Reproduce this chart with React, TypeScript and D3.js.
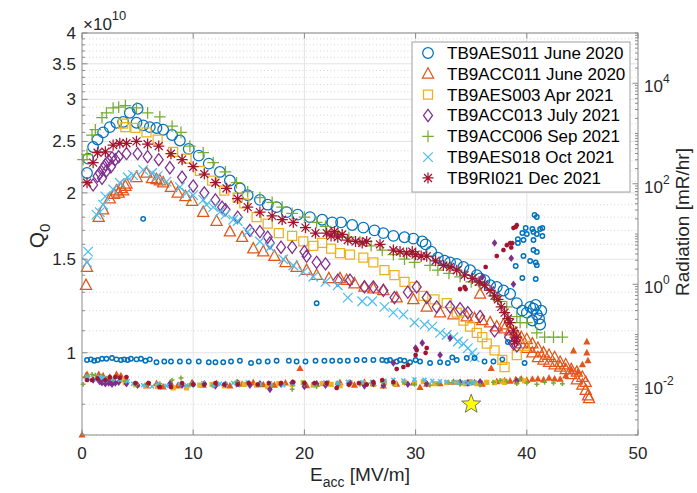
import React from "react";
import * as d3 from "d3";

// ---------------- data (Q0 in units of 1e10, radiation in mR/hr) ----------------
const seriesNames = [
  "TB9AES011 June 2020",
  "TB9ACC011 June 2020",
  "TB9AES003 Apr 2021",
  "TB9ACC013 July 2021",
  "TB9ACC006 Sep 2021",
  "TB9AES018 Oct 2021",
  "TB9RI021 Dec 2021",
];

const aes011Q: [number, number][] = [
  [0.45,2.18],[0.55,2.32],[1.0,2.44],[1.4,2.52],[1.9,2.60],[2.5,2.66],[3.1,2.71],[3.7,2.72],[4.3,2.83],[5.0,2.88],[4.9,2.71],[5.5,2.68],[6.1,2.66],[6.7,2.65],[7.3,2.63],[8.1,2.57],[8.8,2.51],[9.6,2.42],[10.5,2.35],[11.4,2.27],[12.4,2.19],[13.3,2.11],[14.2,2.04],[14.9,1.98],[16.0,1.94],[16.7,1.90],[17.5,1.88],[18.4,1.84],[19.4,1.82],[20.5,1.80],[21.6,1.78],[22.5,1.76],[23.3,1.76],[24.3,1.74],[25.3,1.72],[26.3,1.70],[27.1,1.68],[28.0,1.66],[29.0,1.65],[29.8,1.64],[30.6,1.62],[30.9,1.60],[31.4,1.55],[32.0,1.51],[32.6,1.49],[33.1,1.48],[33.7,1.47],[34.3,1.45],[34.9,1.43],[35.5,1.40],[35.8,1.38],[36.2,1.37],[36.7,1.34],[37.3,1.33],[37.9,1.31],[38.5,1.29],[39.1,1.24],[39.6,1.20],[40.0,1.19],[40.3,1.22],[40.6,1.21],[40.8,1.23],[40.9,1.18],[41.1,1.16],[41.2,1.13],[40.5,1.15],[41.3,1.20],
];
const acc011Q: [number, number][] = [
  [0.36,1.34],[0.45,1.45],[1.5,1.80],[1.9,1.86],[2.5,1.95],[2.9,1.99],[3.1,2.02],[3.3,2.00],[3.5,2.04],[3.7,2.02],[3.9,2.06],[4.0,2.08],[4.9,2.14],[5.8,2.18],[6.3,2.13],[6.7,2.12],[7.0,2.11],[7.3,2.09],[8.0,2.05],[8.6,2.00],[9.3,1.97],[9.9,1.93],[10.9,1.84],[12.1,1.77],[13.3,1.69],[14.4,1.65],[15.4,1.57],[16.3,1.55],[17.3,1.52],[18.3,1.48],[19.3,1.45],[20.2,1.43],[21.1,1.40],[22.2,1.38],[23.2,1.38],[23.8,1.37],[24.5,1.35],[25.4,1.33],[26.2,1.32],[27.1,1.31],[28.3,1.27],[29.8,1.26],[31.0,1.22],[32.2,1.19],[33.4,1.18],[34.6,1.17],[35.3,1.16],[35.8,1.29],[36.0,1.15],[36.7,1.14],[37.3,1.12],[37.9,1.13],[38.0,1.11],[38.5,1.10],[39.0,1.09],[39.0,1.06],[39.5,1.07],[39.5,1.04],[40.0,1.06],[40.0,1.02],[40.5,1.04],[40.5,1.00],[41.0,1.02],[41.0,0.98],[41.5,1.00],[41.5,0.97],[42.0,0.99],[42.0,0.96],[42.5,0.98],[42.5,0.95],[43.0,0.96],[43.0,0.94],[43.5,0.95],[43.5,0.93],[44.0,0.93],[44.0,0.91],[44.5,0.92],[44.5,0.89],[45.0,0.90],[45.0,0.87],[45.3,0.88],[45.3,0.85],[45.5,0.83],[45.6,0.82],
];
const aes003Q: [number, number][] = [
  [3.7,2.70],[3.9,2.66],[4.8,2.65],[5.8,2.60],[6.8,2.52],[8.2,2.39],[9.4,2.32],[10.6,2.20],[11.7,2.11],[12.8,2.02],[14.0,1.96],[14.6,1.91],[15.7,1.80],[16.7,1.75],[17.7,1.68],[18.9,1.66],[19.9,1.62],[20.8,1.59],[21.6,1.61],[22.4,1.57],[23.2,1.54],[24.1,1.53],[25.3,1.51],[26.2,1.48],[27.2,1.43],[28.1,1.40],[29.0,1.36],[29.9,1.33],[30.7,1.28],[31.7,1.26],[32.8,1.24],[33.7,1.19],[34.3,1.15],[34.9,1.12],[35.5,1.09],[36.0,1.07],[36.4,1.04],[37.1,1.01],[37.8,0.97],[38.0,0.94],[39.1,0.99],[39.8,1.03],
];
const acc013Q: [number, number][] = [
  [1.0,2.07],[1.4,2.15],[1.6,2.18],[1.8,2.13],[1.9,2.22],[2.1,2.26],[2.2,2.20],[2.4,2.30],[2.6,2.24],[2.7,2.33],[3.0,2.31],[3.3,2.34],[4.0,2.37],[5.0,2.37],[5.9,2.34],[6.9,2.31],[7.9,2.23],[9.0,2.14],[10.0,2.06],[11.0,2.00],[12.0,1.94],[12.6,1.88],[12.9,1.86],[14.0,1.80],[15.1,1.70],[16.0,1.69],[16.7,1.65],[16.9,1.61],[17.9,1.58],[18.9,1.58],[20.0,1.55],[20.2,1.52],[21.1,1.48],[21.9,1.47],[23.0,1.37],[24.1,1.37],[25.4,1.33],[26.2,1.33],[27.1,1.31],[28.1,1.27],[29.3,1.30],[30.1,1.33],[31.0,1.27],[31.9,1.22],[33.1,1.22],[34.0,1.21],[34.7,1.19],[35.8,1.17],[37.1,1.10],[38.4,1.07],[38.8,1.04],[39.1,1.03],
];
const acc006Q: [number, number][] = [
  [0.1,2.31],[0.45,2.36],[0.9,2.57],[1.2,2.63],[1.8,2.77],[2.2,2.83],[2.8,2.89],[3.3,2.90],[3.9,2.92],[4.9,2.89],[5.9,2.83],[7.0,2.78],[8.1,2.67],[8.9,2.60],[9.7,2.45],[10.9,2.38],[11.8,2.28],[12.9,2.19],[13.9,2.09],[14.9,2.01],[16.0,1.96],[17.1,1.92],[18.0,1.88],[18.9,1.83],[20.0,1.80],[21.1,1.76],[21.9,1.73],[23.0,1.68],[24.0,1.65],[25.0,1.62],[26.0,1.59],[27.0,1.56],[28.0,1.53],[29.0,1.50],[29.9,1.48],[31.3,1.46],[32.0,1.43],[33.0,1.41],[34.0,1.39],[35.0,1.36],[35.8,1.34],[37.0,1.28],[37.6,1.25],[38.2,1.22],[39.1,1.17],[39.4,1.14],[40.0,1.14],[40.9,1.09],[41.6,1.07],[42.4,1.07],[43.2,1.07],
];
const aes018Q: [number, number][] = [
  [0.45,1.48],[0.55,1.55],[1.3,1.82],[1.6,1.84],[1.9,1.90],[2.1,1.97],[2.8,2.03],[3.4,2.09],[4.1,2.14],[4.6,2.16],[5.5,2.21],[6.3,2.18],[6.8,2.15],[7.6,2.10],[8.8,2.05],[9.4,2.00],[10.0,1.98],[10.9,1.94],[11.2,1.90],[11.8,1.88],[12.4,1.84],[12.9,1.82],[13.6,1.78],[14.0,1.77],[14.9,1.69],[16.0,1.62],[16.9,1.58],[18.1,1.50],[19.0,1.46],[19.9,1.42],[20.8,1.39],[21.9,1.36],[23.0,1.34],[23.9,1.27],[25.2,1.25],[26.1,1.25],[27.2,1.22],[28.0,1.19],[28.9,1.18],[29.9,1.14],[30.8,1.13],[31.5,1.12],[32.2,1.09],[32.8,1.08],[33.4,1.07],[33.8,1.05],[34.3,1.04],[34.7,1.02],[35.1,1.00],[35.3,0.98],
];
const ri021Q: [number, number][] = [
  [0.45,2.09],[1.0,2.28],[1.4,2.38],[2.1,2.39],[2.8,2.46],[3.4,2.48],[4.0,2.48],[4.9,2.50],[5.9,2.47],[6.9,2.45],[8.0,2.37],[9.0,2.31],[10.0,2.24],[11.0,2.17],[12.0,2.09],[13.0,2.04],[14.0,1.95],[14.9,1.88],[16.0,1.84],[17.1,1.81],[18.0,1.78],[19.0,1.76],[20.1,1.72],[21.0,1.68],[22.0,1.68],[22.4,1.66],[22.7,1.69],[23.0,1.65],[23.4,1.67],[23.9,1.63],[24.6,1.62],[25.2,1.61],[25.6,1.62],[26.8,1.60],[28.0,1.56],[28.6,1.55],[29.2,1.54],[29.7,1.55],[30.0,1.53],[30.5,1.52],[31.0,1.52],[31.8,1.49],[32.5,1.46],[33.1,1.45],[33.7,1.43],[34.4,1.40],[35.1,1.38],[35.7,1.36],[36.2,1.34],[36.7,1.31],[37.1,1.28],[37.4,1.26],[37.7,1.22],[38.0,1.19],[38.3,1.16],[38.5,1.14],[38.8,1.10],[39.1,1.07],[38.9,1.05],
];

const aes011Rad: [number, number][] = [
  [0.45,0.031],[0.8,0.032],[1.1,0.030],[1.4,0.031],[1.8,0.033],[2.2,0.033],[2.7,0.034],[3.1,0.032],[3.5,0.031],[3.8,0.032],[4.1,0.031],[4.4,0.033],[4.9,0.032],[5.3,0.033],[5.5,20],[5.7,0.030],[6.1,0.032],[6.7,0.028],[7.4,0.029],[8.0,0.029],[8.8,0.029],[9.6,0.029],[10.5,0.029],[11.4,0.028],[12.0,0.028],[12.7,0.028],[13.4,0.029],[14.2,0.030],[15.2,0.027],[15.9,0.029],[16.7,0.029],[17.5,0.030],[18.6,0.030],[19.3,0.029],[20.1,0.029],[21.0,0.030],[21.1,0.42],[21.8,0.030],[22.5,0.030],[23.2,0.030],[23.9,0.030],[24.7,0.031],[25.4,0.031],[26.2,0.031],[27.0,0.031],[27.4,0.030],[27.7,0.031],[28.3,0.029],[28.6,0.031],[29.0,0.030],[29.5,0.028],[30.0,0.031],[30.4,0.029],[31.3,0.027],[32.2,0.028],[32.9,0.027],[33.3,0.035],[33.7,0.031],[34.6,0.034],[35.3,0.034],[36.2,0.029],[37.0,0.029],[37.8,0.032],[38.3,0.071],[39.0,2.3],[39.2,7.9],[39.2,6.6],[39.6,10.5],[39.6,1.33],[39.7,7.6],[39.7,3.65],[39.8,0.027],[39.9,13.2],[40.0,10.0],[40.3,2.9],[40.5,12.6],[40.6,11.0],[40.6,7.6],[40.6,4.8],[40.7,24],[40.8,2.7],[40.8,1.27],[40.9,21.8],[40.9,10.0],[40.9,4.4],[40.9,2.4],[41.2,12.6],[41.4,13.2],[41.4,9.1],
];
const acc011Rad: [number, number][] = [
  [0,0.001],[0.36,0.015],[0.45,0.016],[1.5,0.016],[1.9,0.015],[2.5,0.014],[3.1,0.016],[3.5,0.015],[3.9,0.013],[4.9,0.010],[5.8,0.0095],[6.7,0.0105],[7.3,0.009],[8.0,0.0105],[8.6,0.0095],[9.9,0.011],[10.9,0.0098],[12.1,0.0105],[13.3,0.0095],[14.4,0.0102],[15.4,0.011],[16.3,0.010],[17.3,0.0098],[18.3,0.0108],[19.6,0.021],[20.2,0.0096],[21.1,0.0102],[22.2,0.0105],[23.2,0.011],[24.5,0.0098],[25.4,0.0112],[26.2,0.0105],[27.1,0.0095],[28.3,0.0102],[29.8,0.0108],[30.4,0.0088],[31.0,0.0102],[32.2,0.0105],[33.4,0.0112],[34.6,0.0105],[35.3,0.011],[36.0,0.0102],[36.8,0.021],[37.3,0.0115],[38.0,0.012],[38.5,0.0118],[39.0,0.0125],[39.5,0.013],[40.0,0.0122],[40.5,0.0128],[41.0,0.013],[41.5,0.0125],[42.0,0.0135],[42.5,0.013],[43.0,0.0128],[43.5,0.015],[44.0,0.02],[44.2,0.047],[44.6,0.018],[45.0,0.025],[45.4,0.071],[45.4,0.043],[45.5,0.03],
];
const aes003Rad: [number, number][] = [
  [3.7,0.0125],[3.9,0.011],[4.8,0.0102],[5.8,0.0098],[6.8,0.0092],[8.2,0.0087],[9.4,0.0087],[10.6,0.0098],[11.7,0.0102],[12.8,0.0095],[14.0,0.0108],[14.6,0.0102],[15.7,0.0098],[16.7,0.0092],[17.7,0.0105],[18.9,0.0102],[19.9,0.011],[20.8,0.0098],[21.6,0.0105],[22.4,0.0102],[23.2,0.0096],[24.1,0.011],[25.3,0.0108],[26.2,0.0102],[27.2,0.011],[28.1,0.0105],[29.0,0.0112],[29.9,0.0108],[30.7,0.0115],[31.7,0.0105],[32.8,0.011],[33.7,0.0112],[34.3,0.0108],[34.9,0.0115],[35.5,0.0105],[36.4,0.0112],[37.1,0.011],[37.8,0.0118],[38.0,0.0112],[39.1,0.0115],[39.8,0.012],
];
const acc013Rad: [number, number][] = [
  [1.0,0.0125],[1.4,0.013],[1.6,0.0115],[1.8,0.011],[1.9,0.012],[2.1,0.0105],[2.2,0.0115],[2.4,0.0108],[2.6,0.0112],[2.7,0.0102],[3.0,0.0108],[3.3,0.0112],[4.0,0.0105],[5.0,0.0098],[5.9,0.0102],[6.9,0.0095],[7.9,0.0105],[9.0,0.0098],[10.0,0.0102],[11.0,0.0105],[12.0,0.0095],[12.9,0.0102],[14.0,0.011],[15.1,0.0098],[16.0,0.0105],[16.9,0.0081],[17.9,0.0102],[18.9,0.011],[20.0,0.0092],[21.1,0.0105],[21.9,0.0098],[23.0,0.0102],[24.1,0.0108],[25.4,0.0095],[26.2,0.0105],[27.1,0.0098],[28.0,0.027],[29.3,0.0102],[30.0,0.054],[30.6,0.068],[31.0,0.0105],[32.2,0.039],[33.1,0.085],[34.0,0.0112],[34.7,0.011],[35.8,0.0115],[36.0,1.4],[37.1,6.6],[38.6,3.3],[38.8,1.0],[39.1,0.012],
];
const acc006Rad: [number, number][] = [
  [0.1,0.0102],[0.45,0.015],[0.9,0.016],[1.2,0.0155],[1.8,0.0148],[2.2,0.0135],[2.8,0.0125],[3.3,0.0142],[3.9,0.0118],[4.9,0.0102],[5.9,0.0098],[7.0,0.0105],[8.1,0.0124],[8.9,0.0136],[9.7,0.0098],[10.9,0.0102],[11.8,0.0095],[12.9,0.0105],[13.9,0.0115],[14.9,0.0108],[16.0,0.0102],[17.1,0.0098],[18.0,0.0105],[18.9,0.0081],[20.0,0.0102],[21.1,0.0092],[21.9,0.0105],[23.0,0.0108],[24.0,0.0098],[25.0,0.0102],[26.0,0.0108],[27.0,0.0112],[28.0,0.0105],[29.0,0.0108],[29.9,0.0102],[31.3,0.0098],[32.0,0.0105],[33.0,0.011],[34.0,0.0102],[35.0,0.0108],[35.8,0.0098],[37.0,0.0112],[37.6,0.0122],[38.2,0.0118],[39.1,0.0105],[39.4,0.013],[40.0,0.0108],[40.9,0.0102],[41.6,0.0112],[42.4,0.0108],[43.2,0.0105],
];
const aes018Rad: [number, number][] = [
  [0.45,0.0145],[0.55,0.0135],[1.3,0.0128],[1.6,0.0145],[1.9,0.0138],[2.1,0.0122],[2.8,0.0132],[3.4,0.0125],[4.1,0.0118],[4.6,0.0105],[5.5,0.0098],[6.3,0.0092],[6.8,0.0102],[7.6,0.0095],[8.8,0.0105],[9.4,0.0098],[10.0,0.0102],[10.9,0.0108],[11.8,0.0098],[12.4,0.0105],[12.9,0.0102],[13.6,0.0108],[14.0,0.0098],[14.9,0.0112],[16.0,0.0102],[16.9,0.0108],[18.1,0.0098],[19.0,0.0105],[19.9,0.011],[20.8,0.0102],[21.9,0.0112],[23.0,0.0108],[23.9,0.0115],[25.2,0.0112],[26.1,0.0115],[27.2,0.012],[28.0,0.0125],[28.9,0.0122],[29.9,0.0128],[30.8,0.0125],[31.5,0.012],[32.2,0.0118],[32.8,0.0115],[33.4,0.0112],[33.8,0.011],[34.3,0.0112],[34.7,0.0108],[35.1,0.011],[35.3,0.0112],
];
const ri021Rad: [number, number][] = [
  [0.45,0.0124],[0.9,0.0124],[1.4,0.0132],[2.1,0.0124],[2.5,0.0142],[3.0,0.0142],[3.4,0.0138],[4.0,0.0142],[4.8,0.0108],[6.0,0.0108],[7.0,0.0090],[8.0,0.0090],[9.0,0.0108],[10.0,0.0101],[11.0,0.0101],[12.0,0.0108],[12.8,0.0101],[14.0,0.0101],[15.0,0.0108],[15.8,0.0101],[16.8,0.0108],[17.9,0.0108],[19.0,0.0113],[20.0,0.0108],[20.9,0.0108],[22.0,0.0108],[22.9,0.0086],[24.0,0.0101],[24.9,0.0108],[25.6,0.0101],[26.2,0.0113],[27.0,0.0124],[28.0,0.0113],[28.3,0.0206],[28.9,0.0225],[29.3,0.0247],[30.0,0.039],[30.1,0.049],[30.9,0.043],[31.0,0.054],[34.0,0.80],[34.5,0.80],[34.4,0.88],[36.3,2.2],[37.3,3.65],[37.9,4.8],[38.2,6.0],[38.5,6.6],[38.7,6.6],[38.6,5.4],[38.8,13.2],[39.0,13.8],[39.1,15],
];

const qSeries = [aes011Q, acc011Q, aes003Q, acc013Q, acc006Q, aes018Q, ri021Q];
const radSeries = [aes011Rad, acc011Rad, aes003Rad, acc013Rad, acc006Rad, aes018Rad, ri021Rad];

// ILC specification point
const specPoint: [number, number] = [35, 0.8];

const xTicks = [0, 10, 20, 30, 40, 50];
const qTicks = [1, 1.5, 2, 2.5, 3, 3.5, 4];
const radTickExps = [-2, 0, 2, 4];

// ---------------- styles ----------------
const colors = ["#0072BD", "#E3561A", "#EDB120", "#7E2F8E", "#77AC30", "#4DBEEE", "#A2142F"];
const markers = ["circle", "triangle", "square", "diamond", "plus", "x", "asterisk"];
const FONT = "'Liberation Sans', Arial, Helvetica, sans-serif";
const TXT = "#262626";

function markerPath(kind: string, s: number): string {
  switch (kind) {
    case "circle":
      return `M${s},0A${s},${s},0,1,1,${-s},0A${s},${s},0,1,1,${s},0Z`;
    case "triangle":
      return `M0,${-1.15 * s}L${1.05 * s},${0.8 * s}L${-1.05 * s},${0.8 * s}Z`;
    case "square": {
      const a = 0.85 * s;
      return `M${-a},${-a}H${a}V${a}H${-a}Z`;
    }
    case "diamond":
      return `M0,${-1.15 * s}L${0.85 * s},0L0,${1.15 * s}L${-0.85 * s},0Z`;
    case "plus":
      return `M${-1.1 * s},0H${1.1 * s}M0,${-1.1 * s}V${1.1 * s}`;
    case "x": {
      const a = 0.9 * s;
      return `M${-a},${-a}L${a},${a}M${-a},${a}L${a},${-a}`;
    }
    default: {
      const a = 1.05 * s;
      const b = 0.75 * s;
      return `M${-a},0H${a}M0,${-a}V${a}M${-b},${-b}L${b},${b}M${-b},${b}L${b},${-b}`;
    }
  }
}

function starPath(R: number, r: number): string {
  const pts: string[] = [];
  for (let i = 0; i < 10; i++) {
    const rad = i % 2 === 0 ? R : r;
    const a = -Math.PI / 2 + (i * Math.PI) / 5;
    pts.push(`${(rad * Math.cos(a)).toFixed(2)},${(rad * Math.sin(a)).toFixed(2)}`);
  }
  return "M" + pts.join("L") + "Z";
}

export default function App() {
  const L = 82, Rt = 638, T = 33, B = 435;
  const x = d3.scaleLinear().domain([0, 50]).range([L, Rt]);
  const yQ = d3.scaleLog().domain([0.7, 4]).range([B, T]);
  const yR = d3.scaleLog().domain([1e-3, 1e5]).range([B, T]);

  const qMinor = d3.range(7, 41).map((i) => i / 10).filter((v) => !qTicks.some((t) => Math.abs(t - v) < 1e-9));
  const rMinor: number[] = [];
  for (let e = -3; e <= 4; e++) for (let m = 2; m <= 9; m++) rMinor.push(m * Math.pow(10, e));
  [-3, -1, 1, 3, 5].forEach((e) => rMinor.push(Math.pow(10, e)));

  const bigS = 5.3;
  const smallS = 2.2;

  return (
    <svg
      width={697}
      height={493}
      style={{ position: "absolute", left: 0, top: 0, display: "block", background: "#fff" }}
      fontFamily={FONT}
    >
      <rect x={0} y={0} width={697} height={493} fill="#fff" />
      {/* grid */}
      <g>
        {qMinor.map((v) => (
          <line key={"qm" + v} x1={L} x2={Rt} y1={yQ(v)} y2={yQ(v)} stroke="#c4c4c4" strokeWidth={0.7} strokeDasharray="1 2.5" />
        ))}
        {qTicks.map((v) => (
          <line key={"qg" + v} x1={L} x2={Rt} y1={yQ(v)} y2={yQ(v)} stroke="#e3e3e3" strokeWidth={1} />
        ))}
        {xTicks.slice(1, -1).map((v) => (
          <line key={"xg" + v} x1={x(v)} x2={x(v)} y1={T} y2={B} stroke="#e3e3e3" strokeWidth={1} />
        ))}
      </g>

      {/* Q0 series */}
      {qSeries.map((data, si) => (
        <g key={"q" + si} fill="none" stroke={colors[si]} strokeWidth={1.25}>
          {data.map((d, i) => (
            <path key={i} d={markerPath(markers[si], bigS)} transform={`translate(${x(d[0])},${yQ(d[1])})`} />
          ))}
        </g>
      ))}

      {/* radiation series */}
      {radSeries.map((data, si) => (
        <g key={"r" + si} fill={markers[si] === "circle" ? "none" : colors[si]} stroke={colors[si]} strokeWidth={1.5}>
          {data.map((d, i) => (
            <path key={i} d={markerPath(markers[si], smallS)} transform={`translate(${x(d[0])},${yR(d[1])})`} />
          ))}
        </g>
      ))}

      {/* spec star */}
      <path
        d={starPath(10, 4.2)}
        transform={`translate(${x(specPoint[0])},${yQ(specPoint[1])})`}
        fill="#FFFF00"
        stroke="#555"
        strokeWidth={0.8}
      />

      {/* axes box */}
      <rect x={L} y={T} width={Rt - L} height={B - T} fill="none" stroke="#8a8a8a" strokeWidth={1} />

      {/* x ticks */}
      {xTicks.map((v) => (
        <g key={"xt" + v}>
          <line x1={x(v)} x2={x(v)} y1={B} y2={B - 5.5} stroke="#8a8a8a" />
          <line x1={x(v)} x2={x(v)} y1={T} y2={T + 5.5} stroke="#8a8a8a" />
          <text x={x(v)} y={459} textAnchor="middle" fontSize={17} fill={TXT}>
            {v}
          </text>
        </g>
      ))}

      {/* left ticks */}
      {qMinor.map((v) => (
        <line key={"lqm" + v} x1={L} x2={L + 3} y1={yQ(v)} y2={yQ(v)} stroke="#8a8a8a" />
      ))}
      {qTicks.map((v) => (
        <g key={"lq" + v}>
          <line x1={L} x2={L + 5.5} y1={yQ(v)} y2={yQ(v)} stroke="#8a8a8a" />
          <text x={76} y={yQ(v) + 6} textAnchor="end" fontSize={17} fill={TXT}>
            {v}
          </text>
        </g>
      ))}
      <text x={83} y={30} fontSize={17} fill={TXT}>
        ×10<tspan dy={-10} fontSize={13}>10</tspan>
      </text>

      {/* right ticks */}
      {rMinor.map((v, i) => (
        <line key={"rm" + i} x1={Rt} x2={Rt - 3} y1={yR(v)} y2={yR(v)} stroke="#8a8a8a" />
      ))}
      {radTickExps.map((e) => (
        <g key={"re" + e}>
          <line x1={Rt} x2={Rt - 5.5} y1={yR(Math.pow(10, e))} y2={yR(Math.pow(10, e))} stroke="#8a8a8a" />
          <text x={644} y={yR(Math.pow(10, e)) + 9} fontSize={17} fill={TXT}>
            10<tspan dy={-9} fontSize={12}>{String(e)}</tspan>
          </text>
        </g>
      ))}

      {/* axis labels */}
      <text x={360} y={481} textAnchor="middle" fontSize={19} fill={TXT}>
        E<tspan dy={6} fontSize={14}>acc</tspan>
        <tspan dy={-6}> [MV/m]</tspan>
      </text>
      <text transform="translate(44,236) rotate(-90)" textAnchor="middle" fontSize={21} fill={TXT}>
        Q<tspan dy={6} fontSize={15}>0</tspan>
      </text>
      <text transform="translate(689,222) rotate(-90)" textAnchor="middle" fontSize={19} fill={TXT}>
        Radiation [mR/hr]
      </text>

      {/* legend */}
      <g>
        <rect x={412} y={42} width={218} height={150} fill="#fff" stroke="#a0a0a0" strokeWidth={1} />
        {seriesNames.map((name, i) => {
          const cy = 53 + i * 20.83;
          return (
            <g key={name}>
              <path
                d={markerPath(markers[i], bigS)}
                transform={`translate(428,${cy})`}
                fill="none"
                stroke={colors[i]}
                strokeWidth={1.25}
              />
              <text x={447} y={cy + 6} fontSize={17} fill="#000">
                {name}
              </text>
            </g>
          );
        })}
      </g>
    </svg>
  );
}
